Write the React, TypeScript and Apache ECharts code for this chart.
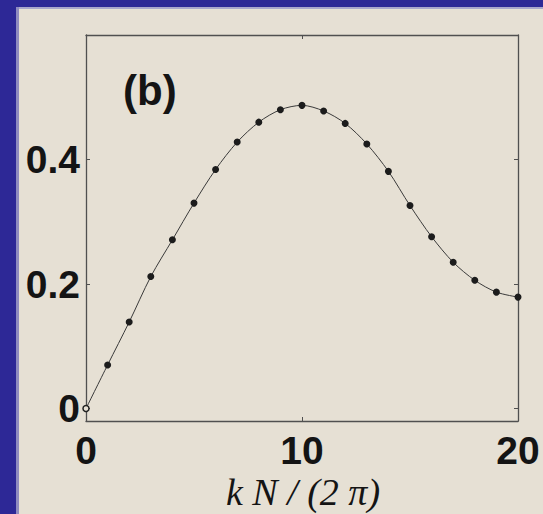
import React, { useEffect, useRef } from "react";
import * as echarts from "echarts";

// k N / (2π) sample positions and the corresponding computed values
const kValues = [0, 1, 2, 3, 4, 5, 6, 7, 8, 9, 10, 11, 12, 13, 14, 15, 16, 17, 18, 19, 20];
const amplitude = [
  0, 0.07, 0.139, 0.212, 0.271, 0.33, 0.384, 0.428, 0.46, 0.48, 0.487,
  0.478, 0.458, 0.425, 0.381, 0.326, 0.276, 0.235, 0.206, 0.187, 0.179,
];
const xTickLabels = [0, 10, 20];
const yTickLabels = [0, 0.2, 0.4];
const panelLabel = "(b)";
const xAxisTitle = "k N / (2 π)";

const BG = "#e6e0d4";
const FRAME = "#2d2896";
const AXIS = "#505050";
const SANS = "'Liberation Sans', Arial, Helvetica, sans-serif";
const SERIF = "'Liberation Serif', 'Times New Roman', serif";

export default function App() {
  const ref = useRef<HTMLDivElement>(null);

  useEffect(() => {
    if (!ref.current) return;
    const chart = echarts.init(ref.current, undefined, { renderer: "svg" });

    const axisLine = { show: true, onZero: false, lineStyle: { color: AXIS, width: 1.3 } };
    const tickStyle = { show: true, inside: true, length: 4, lineStyle: { color: AXIS, width: 1 } };
    const labelStyle = {
      color: "#141414",
      fontSize: 39,
      lineHeight: 34,
      fontWeight: "bold" as const,
      fontFamily: SANS,
      showMinLabel: true,
      showMaxLabel: true,
      hideOverlap: false,
    };

    const points = kValues.map((k, i) =>
      i === 0
        ? {
            value: [k, amplitude[i]],
            symbolSize: 6,
            itemStyle: { color: BG, borderColor: "#222", borderWidth: 1.5 },
          }
        : [k, amplitude[i]]
    );

    chart.setOption({
      animation: false,
      backgroundColor: BG,
      grid: { left: 86, top: 35, width: 432, height: 386, containLabel: false },
      xAxis: [
        {
          type: "value",
          position: "bottom",
          min: 0,
          max: 20,
          interval: 10,
          axisLine,
          axisTick: { ...tickStyle, customValues: [10] },
          axisLabel: { ...labelStyle, margin: 12, customValues: xTickLabels },
          splitLine: { show: false },
        },
        {
          type: "value",
          position: "top",
          min: 0,
          max: 20,
          interval: 10,
          axisLine,
          axisTick: { ...tickStyle, customValues: [10] },
          axisLabel: { show: false },
          splitLine: { show: false },
        },
      ],
      yAxis: [
        {
          type: "value",
          position: "left",
          min: -0.02,
          max: 0.6,
          axisLine,
          axisTick: { ...tickStyle, customValues: yTickLabels },
          axisLabel: { ...labelStyle, margin: 6, customValues: yTickLabels },
          splitLine: { show: false },
        },
        {
          type: "value",
          position: "right",
          min: -0.02,
          max: 0.6,
          axisLine,
          axisTick: { ...tickStyle, customValues: yTickLabels },
          axisLabel: { show: false },
          splitLine: { show: false },
        },
      ],
      series: [
        {
          type: "line",
          xAxisIndex: 0,
          yAxisIndex: 0,
          data: points,
          smooth: 0.3,
          symbol: "circle",
          symbolSize: 7,
          showAllSymbol: true,
          lineStyle: { color: "#3a3a3a", width: 1 },
          itemStyle: { color: "#1c1c1c" },
          clip: false,
          z: 3,
        },
      ],
      graphic: [
        { type: "rect", left: 0, top: 0, shape: { width: 16, height: 514 }, style: { fill: FRAME }, z: 10 },
        { type: "rect", left: 16, top: 0, shape: { width: 3, height: 514 }, style: { fill: "#8f8cc0" }, z: 10 },
        { type: "rect", left: 0, top: 0, shape: { width: 543, height: 7 }, style: { fill: FRAME }, z: 10 },
        { type: "rect", left: 19, top: 7, shape: { width: 524, height: 2 }, style: { fill: "#aaa7cc" }, z: 10 },
        {
          type: "text",
          x: 123,
          y: 90,
          style: {
            text: panelLabel,
            fill: "#141414",
            font: `bold 42px ${SANS}`,
            textAlign: "left",
            textVerticalAlign: "middle",
          },
          z: 5,
        },
        {
          type: "text",
          x: 303,
          y: 492,
          style: {
            text: xAxisTitle,
            fill: "#141414",
            font: `italic 38px ${SERIF}`,
            lineHeight: 36,
            textAlign: "center",
            textVerticalAlign: "middle",
          },
          z: 5,
        },
      ],
    });

    return () => chart.dispose();
  }, []);

  return (
    <div
      ref={ref}
      style={{ position: "absolute", left: 0, top: 0, width: 543, height: 514, background: BG }}
    />
  );
}
